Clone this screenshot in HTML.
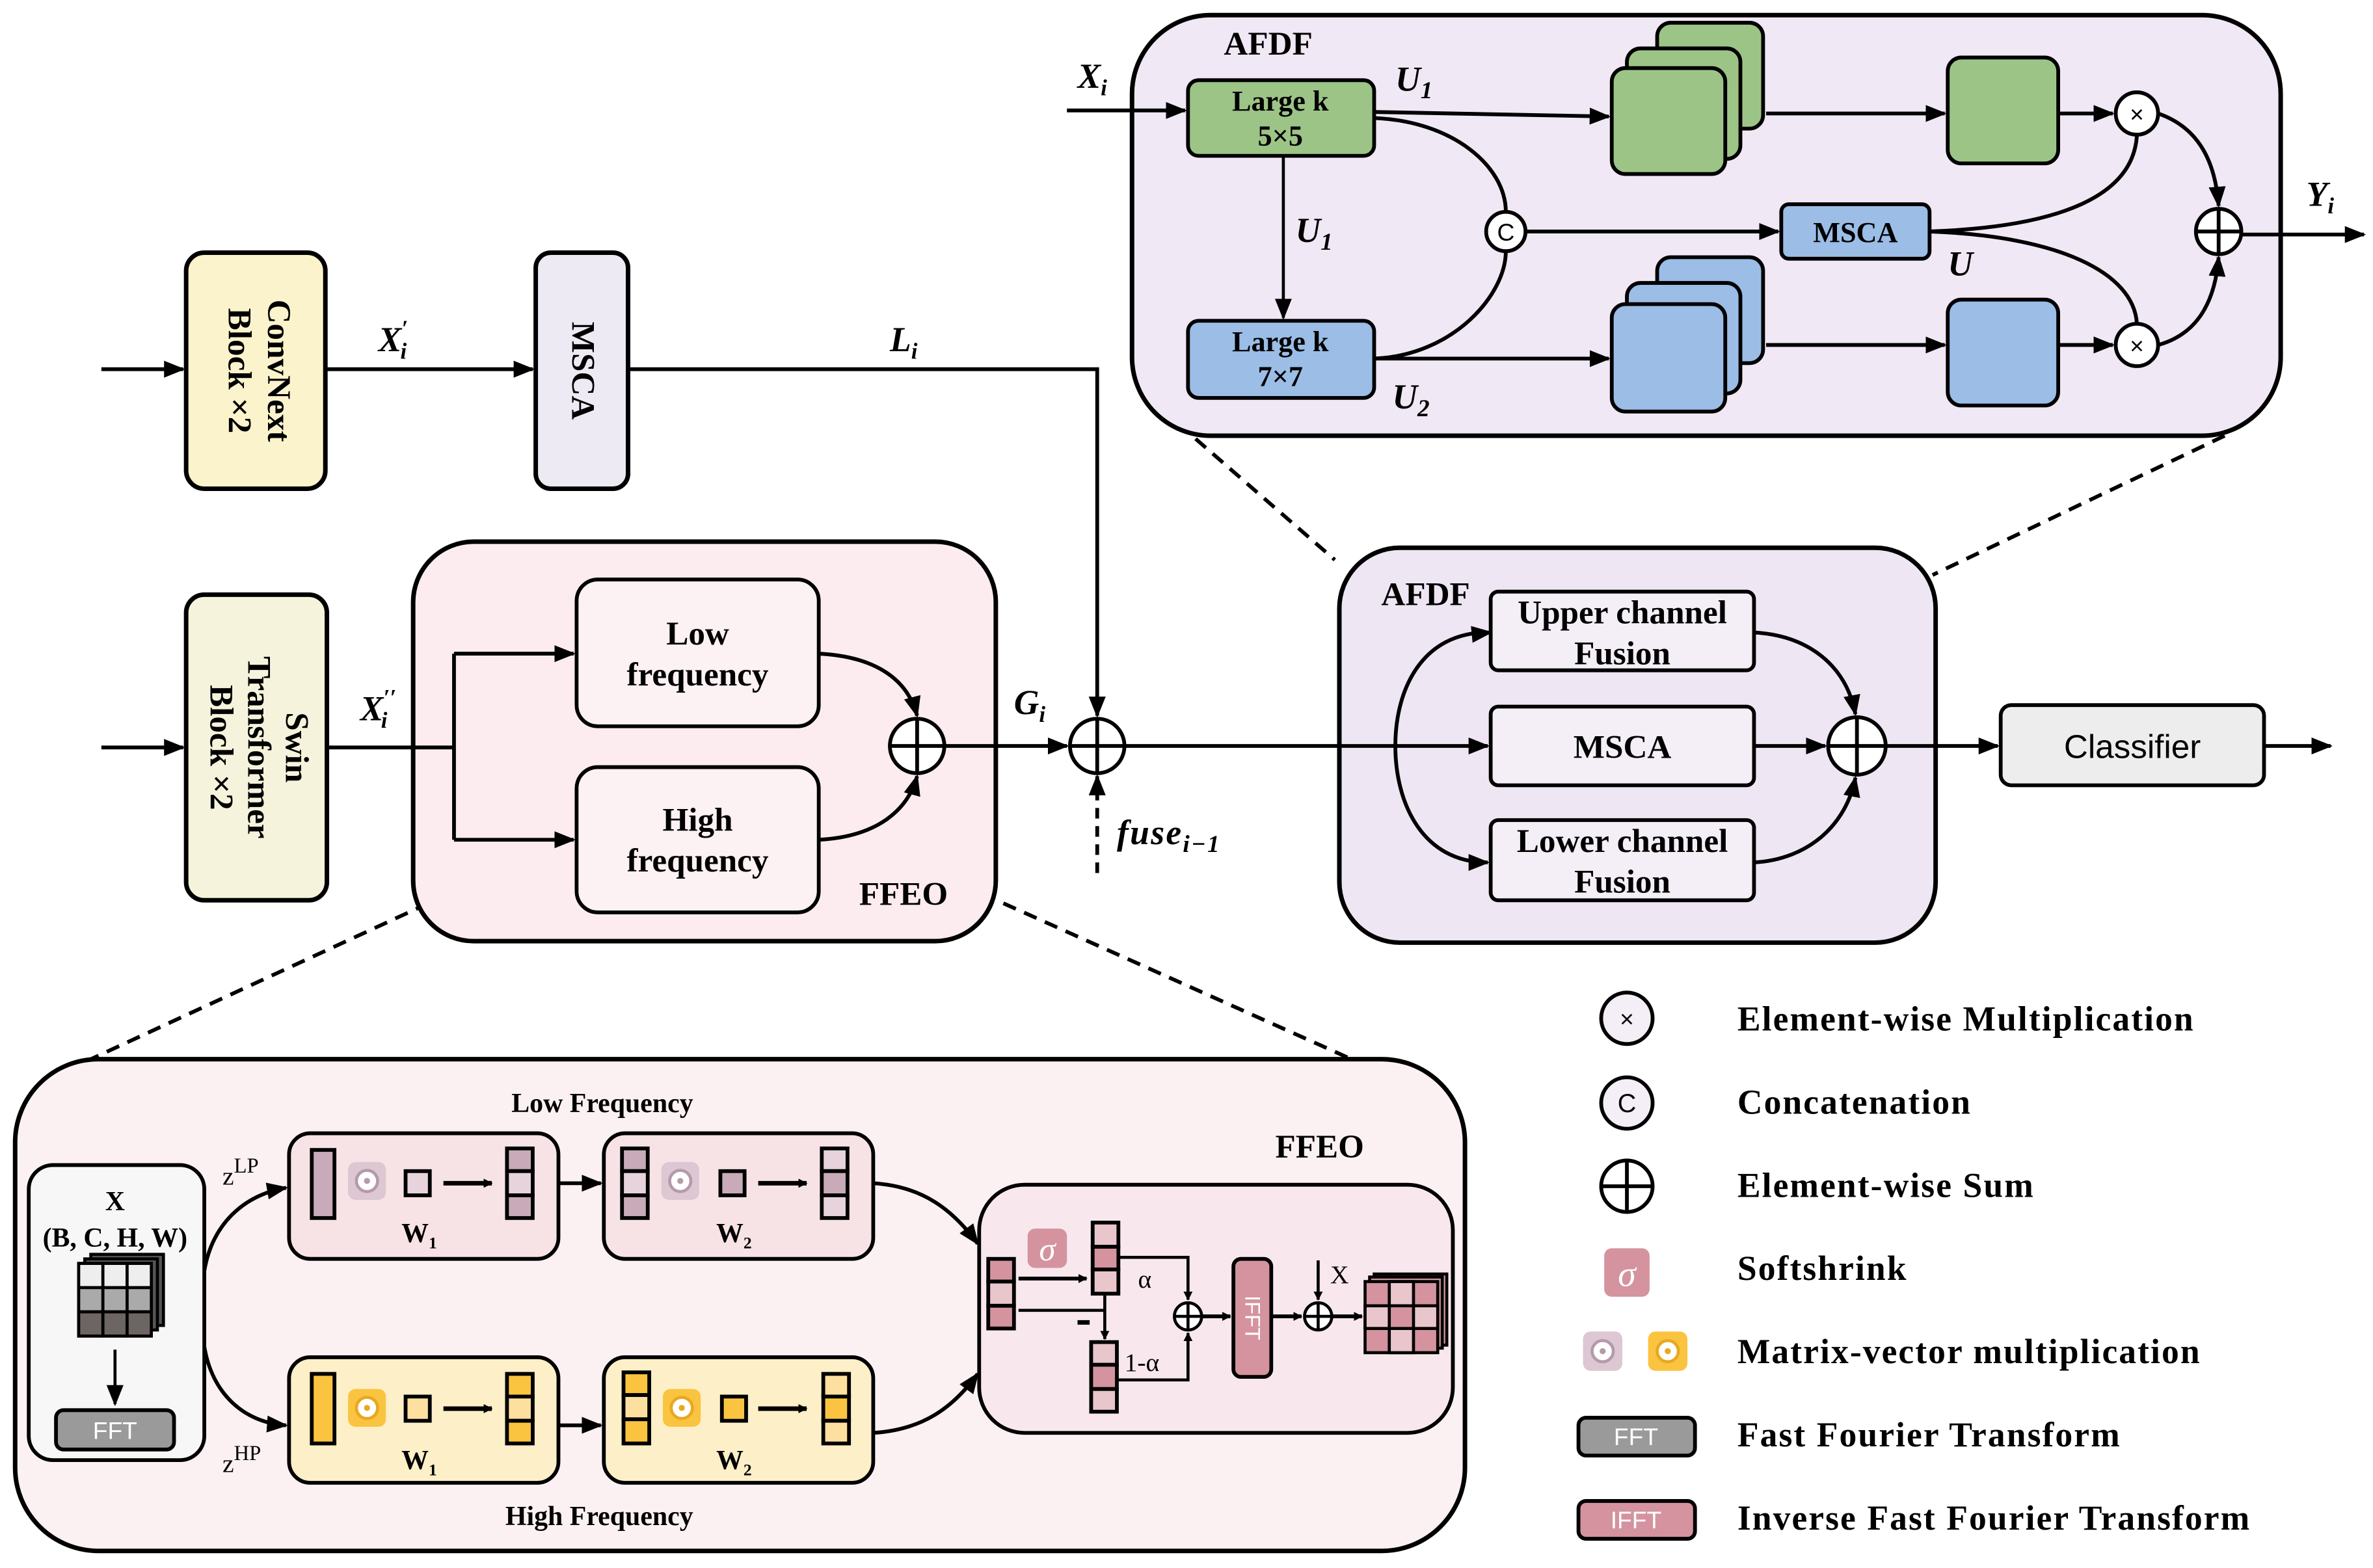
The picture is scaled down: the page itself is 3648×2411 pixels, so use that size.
<!DOCTYPE html>
<html><head><meta charset="utf-8"><style>html,body{margin:0;padding:0;background:#fff}svg{display:block}</style></head>
<body>
<svg width="3648" height="2411" viewBox="0 0 1568 1036.3" xmlns="http://www.w3.org/2000/svg" font-family="Liberation Serif, serif" font-weight="bold">
<defs>
<marker id="a" viewBox="0 0 10 10" refX="9" refY="5" markerWidth="6" markerHeight="6" orient="auto" markerUnits="userSpaceOnUse"><path d="M0,0L10,5L0,10z"/></marker>
<marker id="A" viewBox="0 0 10 10" refX="9" refY="5" markerWidth="14" markerHeight="14" orient="auto" markerUnits="userSpaceOnUse"><path d="M0,1L10,5L0,9z"/></marker>
</defs>
<g stroke="#000" stroke-width="2.5" fill="none">
<path d="M283,597L60,700M663,597L893,700M790,290L882,370M1470,288L1277,380" stroke-dasharray="9,6"/>
</g>
<rect x="748" y="10" width="759" height="278" rx="52" fill="#f0e8f4" stroke="#000" stroke-width="3"/>
<text x="838" y="36" font-size="22" text-anchor="middle">AFDF</text>
<g stroke="#000" stroke-width="2.5">
<rect x="785" y="53" width="123" height="50" rx="7" fill="#9dc487"/>
<rect x="785" y="212" width="123" height="51" rx="7" fill="#9bbde6"/>
<rect x="1095" y="15" width="70" height="70" rx="9" fill="#9dc487"/>
<rect x="1075" y="32" width="75" height="73" rx="9" fill="#9dc487"/>
<rect x="1065" y="45" width="75" height="70" rx="9" fill="#9dc487"/>
<rect x="1287" y="38" width="73" height="70" rx="9" fill="#9dc487"/>
<rect x="1095" y="170" width="70" height="70" rx="9" fill="#9bbde6"/>
<rect x="1075" y="187" width="75" height="73" rx="9" fill="#9bbde6"/>
<rect x="1065" y="201" width="75" height="71" rx="9" fill="#9bbde6"/>
<rect x="1287" y="198" width="73" height="70" rx="9" fill="#9bbde6"/>
<rect x="1177" y="135" width="98" height="36" rx="5" fill="#9bbde6"/>
</g>
<g font-size="19" text-anchor="middle">
<text x="846" y="73">Large k</text><text x="846" y="96">5×5</text>
<text x="846" y="232">Large k</text><text x="846" y="255">7×7</text>
<text x="1226" y="160">MSCA</text>
</g>
<g stroke="#000" stroke-width="2.5" fill="none">
<path d="M705,73H783" marker-end="url(#A)"/>
<path d="M908,74L1063,77" marker-end="url(#A)"/>
<path d="M1167,75H1285" marker-end="url(#A)"/>
<path d="M1360,75H1396" marker-end="url(#A)"/>
<path d="M848,103V210" stroke-width="2" marker-end="url(#A)"/>
<path d="M908,78C960,80 995,110 995,140"/>
<path d="M908,237C960,235 995,195 995,166"/>
<path d="M1008,153H1175" marker-end="url(#A)"/>
<path d="M908,237H1063" marker-end="url(#A)"/>
<path d="M1167,228H1285" marker-end="url(#A)"/>
<path d="M1360,228H1396" marker-end="url(#A)"/>
<path d="M1275,153C1360,150 1410,130 1412,89"/>
<path d="M1275,153C1360,156 1410,180 1412,214"/>
<path d="M1426,75C1455,85 1464,110 1466,136" marker-end="url(#A)"/>
<path d="M1426,228C1455,220 1464,195 1466,170" marker-end="url(#A)"/>
<path d="M1481,155H1562" marker-end="url(#A)"/>
</g>
<g stroke="#000" stroke-width="2.5" fill="#fff">
<circle cx="995" cy="153" r="13"/><circle cx="1412" cy="75" r="14"/><circle cx="1412" cy="228" r="14"/><circle cx="1466" cy="153" r="15"/>
</g>
<path d="M1451,153H1481M1466,138V168" stroke="#000" stroke-width="2.5"/>
<g font-family="Liberation Sans, sans-serif" font-weight="normal" text-anchor="middle">
<text x="995" y="159" font-size="16">C</text><text x="1412" y="81" font-size="16">×</text><text x="1412" y="234" font-size="16">×</text>
</g>
<g font-style="italic" font-size="23">
<text x="712" y="58">X<tspan font-size="15" dy="5">i</tspan></text>
<text x="922" y="60">U<tspan font-size="16" dy="5">1</tspan></text>
<text x="856" y="160">U<tspan font-size="16" dy="5">1</tspan></text>
<text x="920" y="270">U<tspan font-size="16" dy="5">2</tspan></text>
<text x="1287" y="182">U</text>
<text x="1524" y="136">Y<tspan font-size="15" dy="5">i</tspan></text>
</g>

<rect x="123" y="167" width="92" height="156" rx="12" fill="#fbf3cc" stroke="#000" stroke-width="3"/>
<rect x="354" y="167" width="61" height="156" rx="10" fill="#eeeaf4" stroke="#000" stroke-width="3"/>
<rect x="123" y="393" width="93" height="202" rx="12" fill="#f5f3dc" stroke="#000" stroke-width="3"/>
<g font-size="22" text-anchor="middle">
<text transform="translate(169,245) rotate(90)"><tspan x="0" y="-8">ConvNext</tspan><tspan x="0" y="18">Block  ×2</tspan></text>
<text transform="translate(385,245) rotate(90)" y="7">MSCA</text>
<text transform="translate(169,494) rotate(90)"><tspan x="0" y="-20">Swin</tspan><tspan x="0" y="5">Transformer</tspan><tspan x="0" y="30">Block  ×2</tspan></text>
</g>
<rect x="273" y="358" width="385" height="264" rx="40" fill="#fcecef" stroke="#000" stroke-width="3"/>
<rect x="381" y="383" width="160" height="97" rx="14" fill="#fcf1f3" stroke="#000" stroke-width="2.5"/>
<rect x="381" y="507" width="160" height="96" rx="14" fill="#fcf1f3" stroke="#000" stroke-width="2.5"/>
<g font-size="22" text-anchor="middle">
<text x="461" y="426">Low</text><text x="461" y="453">frequency</text>
<text x="461" y="549">High</text><text x="461" y="576">frequency</text>
<text x="597" y="598">FFEO</text>
</g>
<rect x="885" y="362" width="394" height="261" rx="40" fill="#eee6f2" stroke="#000" stroke-width="3"/>
<text x="942" y="400" font-size="22" text-anchor="middle">AFDF</text>
<g stroke="#000" stroke-width="2.5" fill="#f4eef6">
<rect x="985" y="391" width="174" height="52" rx="5"/>
<rect x="985" y="467" width="174" height="52" rx="5"/>
<rect x="985" y="542" width="174" height="53" rx="5"/>
<rect x="1322" y="466" width="174" height="53" rx="7" fill="#ededed"/>
</g>
<g font-size="22" text-anchor="middle">
<text x="1072" y="412">Upper channel</text><text x="1072" y="439">Fusion</text>
<text x="1072" y="501">MSCA</text>
<text x="1072" y="563">Lower channel</text><text x="1072" y="590">Fusion</text>
<text x="1409" y="501" font-family="Liberation Sans, sans-serif" font-weight="normal" font-size="22">Classifier</text>
</g>
<g stroke="#000" stroke-width="2.5" fill="none">
<path d="M67,244H121" marker-end="url(#A)"/>
<path d="M215,244H352" marker-end="url(#A)"/>
<path d="M415,244H725V473" marker-end="url(#A)"/>
<path d="M67,494H121" marker-end="url(#A)"/>
<path d="M216,494H300"/>
<path d="M300,432V555"/>
<path d="M300,432H379" marker-end="url(#A)"/>
<path d="M300,555H379" marker-end="url(#A)"/>
<path d="M541,432C580,434 600,450 606,473" marker-end="url(#A)"/>
<path d="M541,555C580,553 600,535 606,513" marker-end="url(#A)"/>
<path d="M624,493H705" marker-end="url(#A)"/>
<path d="M725,577V513" stroke-dasharray="7,5" marker-end="url(#A)"/>
<path d="M743,493H983" marker-end="url(#A)"/>
<path d="M983,418C940,418 922,455 922,493C922,531 940,570 983,570" marker-end="url(#A)"/>
<path d="M975,419L985,418" marker-end="url(#A)"/>
<path d="M1159,418C1195,420 1220,440 1226,472" marker-end="url(#A)"/>
<path d="M1159,493H1206" marker-end="url(#A)"/>
<path d="M1159,570C1195,568 1220,545 1226,514" marker-end="url(#A)"/>
<path d="M1246,493H1320" marker-end="url(#A)"/>
<path d="M1496,493H1540" marker-end="url(#A)"/>
</g>
<g stroke="#000" stroke-width="2.5" fill="#fff">
<circle cx="606" cy="493" r="18"/><circle cx="725" cy="493" r="18"/><circle cx="1227" cy="493" r="19"/>
</g>
<path d="M588,493H624M606,475V511M707,493H743M725,475V511M1208,493H1246M1227,474V512" stroke="#000" stroke-width="2.5"/>
<g font-style="italic" font-size="23">
<text x="250" y="232">X<tspan font-size="15" dy="-10">′</tspan><tspan font-size="15" dx="-5" dy="15">i</tspan></text>
<text x="588" y="232">L<tspan font-size="15" dy="5">i</tspan></text>
<text x="238" y="476">X<tspan font-size="15" dy="-10">′′</tspan><tspan font-size="15" dx="-10" dy="15">i</tspan></text>
<text x="670" y="472">G<tspan font-size="15" dy="5">i</tspan></text>
<text x="738" y="558" letter-spacing="1">fuse<tspan font-size="16" dy="5">i−1</tspan></text>
</g>

<g stroke="#000" stroke-width="2.5" fill="#fff">
<circle cx="1075" cy="673" r="17" fill="#f4eef6"/><circle cx="1075" cy="729" r="17" fill="#f4eef6"/><circle cx="1075" cy="784" r="17"/>
</g>
<path d="M1058,784H1092M1075,767V801" stroke="#000" stroke-width="2.5"/>
<g font-family="Liberation Sans, sans-serif" font-weight="normal" text-anchor="middle">
<text x="1075" y="679" font-size="16">×</text><text x="1075" y="735" font-size="17">C</text>
</g>
<rect x="1060" y="825" width="30" height="32" rx="5" fill="#d4939f"/>
<text x="1075" y="850" font-size="24" fill="#fff" font-weight="normal" font-style="italic" text-anchor="middle">σ</text>
<rect x="1046" y="880" width="26" height="26" rx="5" fill="#dcc7d2"/><circle cx="1059" cy="893" r="7" fill="#fff" stroke="#b59aaa" stroke-width="2"/><circle cx="1059" cy="893" r="2" fill="#b59aaa"/>
<rect x="1089" y="880" width="26" height="26" rx="5" fill="#fac440"/><circle cx="1102" cy="893" r="7" fill="#fff" stroke="#e8a820" stroke-width="2"/><circle cx="1102" cy="893" r="2" fill="#e8a820"/>
<rect x="1043" y="937" width="77" height="25" rx="5" fill="#9a9a9a" stroke="#000" stroke-width="2.5"/>
<rect x="1043" y="992" width="77" height="25" rx="5" fill="#d4939f" stroke="#000" stroke-width="2.5"/>
<g font-family="Liberation Sans, sans-serif" font-weight="normal" fill="#fff" font-size="16" text-anchor="middle">
<text x="1081" y="955">FFT</text><text x="1081" y="1010">IFFT</text>
</g>
<g font-size="23" letter-spacing="0.9">
<text x="1148" y="681">Element-wise Multiplication</text>
<text x="1148" y="736">Concatenation</text>
<text x="1148" y="791">Element-wise Sum</text>
<text x="1148" y="846">Softshrink</text>
<text x="1148" y="901">Matrix-vector multiplication</text>
<text x="1148" y="956">Fast Fourier Transform</text>
<text x="1148" y="1011">Inverse Fast Fourier Transform</text>
</g>

<rect x="10" y="700" width="958" height="325" rx="55" fill="#fcf1f2" stroke="#000" stroke-width="3"/>
<text x="872" y="765" font-size="22" text-anchor="middle">FFEO</text>
<text x="398" y="735" font-size="18" text-anchor="middle">Low Frequency</text>
<text x="396" y="1008" font-size="18" text-anchor="middle">High Frequency</text>
<rect x="19" y="770" width="116" height="195" rx="16" fill="#f7f7f7" stroke="#000" stroke-width="2.5"/>
<text x="76" y="800" font-size="18" text-anchor="middle">X</text>
<text x="76" y="824" font-size="18" text-anchor="middle">(B, C, H, W)</text>
<g stroke="#000" stroke-width="2">
<rect x="60" y="829" width="48" height="47" fill="#555"/>
<rect x="56" y="832" width="48" height="47" fill="#555"/>
<rect x="52" y="835" width="48" height="48" fill="#fff"/>
<rect x="52" y="835" width="16" height="16" fill="#eee"/><rect x="68" y="835" width="16" height="16" fill="#eee"/><rect x="84" y="835" width="16" height="16" fill="#eee"/>
<rect x="52" y="851" width="16" height="16" fill="#aaa"/><rect x="68" y="851" width="16" height="16" fill="#aaa"/><rect x="84" y="851" width="16" height="16" fill="#aaa"/>
<rect x="52" y="867" width="16" height="16" fill="#6d6464"/><rect x="68" y="867" width="16" height="16" fill="#6d6464"/><rect x="84" y="867" width="16" height="16" fill="#6d6464"/>
</g>
<path d="M76,892V928" stroke="#000" stroke-width="2" marker-end="url(#A)"/>
<rect x="37" y="932" width="78" height="26" rx="5" fill="#9a9a9a" stroke="#000" stroke-width="2.5"/>
<text x="76" y="951" font-family="Liberation Sans, sans-serif" font-weight="normal" fill="#fff" font-size="16" text-anchor="middle">FFT</text>
<g font-family="Liberation Serif, serif" font-weight="normal" font-size="17">
<text x="147" y="783">z<tspan font-size="14" dy="-8">LP</tspan></text>
<text x="147" y="973">z<tspan font-size="14" dy="-8">HP</tspan></text>
</g>
<g stroke="#000" stroke-width="2.5" fill="none">
<path d="M135,840C140,810 160,790 189,785" marker-end="url(#A)"/>
<path d="M135,890C140,920 160,940 189,942" marker-end="url(#A)"/>
<path d="M369,782H397" marker-end="url(#A)"/>
<path d="M369,942H397" marker-end="url(#A)"/>
<path d="M577,782C610,784 630,800 646,822" marker-end="url(#A)"/>
<path d="M577,947C610,945 630,930 646,908" marker-end="url(#A)"/>
</g>
<g stroke="#000" stroke-width="2.5">
<rect x="191" y="749" width="178" height="83" rx="14" fill="#f7e3e6"/>
<rect x="399" y="749" width="178" height="83" rx="14" fill="#f7e3e6"/>
<rect x="191" y="897" width="178" height="83" rx="14" fill="#fdefc8"/>
<rect x="399" y="897" width="178" height="83" rx="14" fill="#fdefc8"/>
</g>
<g stroke="#000" stroke-width="2.5">
<rect x="206" y="760" width="15" height="45" fill="#c9aab8"/>
<rect x="268" y="774" width="16" height="16" fill="#e6d3dc"/>
<rect x="335" y="759" width="17" height="15" fill="#c9aab8"/><rect x="335" y="774" width="17" height="16" fill="#e6d3dc"/><rect x="335" y="790" width="17" height="15" fill="#c9aab8"/>
<rect x="411" y="759" width="17" height="15" fill="#c9aab8"/><rect x="411" y="774" width="17" height="16" fill="#e6d3dc"/><rect x="411" y="790" width="17" height="15" fill="#c9aab8"/>
<rect x="476" y="774" width="16" height="16" fill="#c9aab8"/>
<rect x="543" y="759" width="17" height="15" fill="#e6d3dc"/><rect x="543" y="774" width="17" height="16" fill="#c9aab8"/><rect x="543" y="790" width="17" height="15" fill="#e6d3dc"/>
<rect x="206" y="908" width="15" height="46" fill="#fac440"/>
<rect x="268" y="923" width="16" height="16" fill="#fde0a0"/>
<rect x="335" y="908" width="17" height="15" fill="#fac440"/><rect x="335" y="923" width="17" height="16" fill="#fde0a0"/><rect x="335" y="939" width="17" height="15" fill="#fac440"/>
<rect x="412" y="907" width="17" height="15" fill="#fac440"/><rect x="412" y="922" width="17" height="16" fill="#fde0a0"/><rect x="412" y="938" width="17" height="16" fill="#fac440"/>
<rect x="477" y="923" width="16" height="16" fill="#fac440"/>
<rect x="544" y="908" width="17" height="15" fill="#fde0a0"/><rect x="544" y="923" width="17" height="16" fill="#fac440"/><rect x="544" y="939" width="17" height="15" fill="#fde0a0"/>
</g>
<g stroke="#000" stroke-width="3" fill="none">
<path d="M293,782H325" marker-end="url(#a)"/><path d="M501,782H533" marker-end="url(#a)"/>
<path d="M293,931H325" marker-end="url(#a)"/><path d="M501,931H533" marker-end="url(#a)"/>
</g>
<rect x="230" y="768" width="25" height="25" rx="5" fill="#dcc7d2"/><circle cx="242.5" cy="780.5" r="7" fill="#fff" stroke="#b59aaa" stroke-width="2"/><circle cx="242.5" cy="780.5" r="2" fill="#b59aaa"/>
<rect x="437" y="768" width="25" height="25" rx="5" fill="#dcc7d2"/><circle cx="449.5" cy="780.5" r="7" fill="#fff" stroke="#b59aaa" stroke-width="2"/><circle cx="449.5" cy="780.5" r="2" fill="#b59aaa"/>
<rect x="230" y="918" width="25" height="25" rx="5" fill="#fac440"/><circle cx="242.5" cy="930.5" r="7" fill="#fff" stroke="#e8a820" stroke-width="2"/><circle cx="242.5" cy="930.5" r="2" fill="#e8a820"/>
<rect x="438" y="918" width="25" height="25" rx="5" fill="#fac440"/><circle cx="450.5" cy="930.5" r="7" fill="#fff" stroke="#e8a820" stroke-width="2"/><circle cx="450.5" cy="930.5" r="2" fill="#e8a820"/>
<g font-size="18" text-anchor="middle">
<text x="277" y="821">W<tspan font-size="11" dy="4">1</tspan></text>
<text x="485" y="821">W<tspan font-size="11" dy="4">2</tspan></text>
<text x="277" y="971">W<tspan font-size="11" dy="4">1</tspan></text>
<text x="485" y="971">W<tspan font-size="11" dy="4">2</tspan></text>
</g>
<rect x="647" y="783" width="313" height="164" rx="30" fill="#f8e8ed" stroke="#000" stroke-width="2.5"/>
<g stroke="#000" stroke-width="2.5">
<rect x="653" y="832" width="17" height="15" fill="#d4939f"/><rect x="653" y="847" width="17" height="16" fill="#e8c6cc"/><rect x="653" y="863" width="17" height="15" fill="#d4939f"/>
<rect x="722" y="808" width="17" height="16" fill="#e8c6cc"/><rect x="722" y="824" width="17" height="15" fill="#d4939f"/><rect x="722" y="839" width="17" height="16" fill="#e8c6cc"/>
<rect x="721" y="887" width="17" height="15" fill="#e8c6cc"/><rect x="721" y="902" width="17" height="16" fill="#d4939f"/><rect x="721" y="918" width="17" height="15" fill="#e8c6cc"/>
<rect x="815" y="832" width="25" height="78" rx="5" fill="#d4939f"/>
</g>
<rect x="679" y="812" width="26" height="26" rx="5" fill="#d4939f"/>
<text x="692" y="833" font-size="22" fill="#fff" font-weight="normal" font-style="italic" text-anchor="middle">σ</text>
<text transform="translate(828,871) rotate(90)" y="5" font-family="Liberation Sans, sans-serif" font-weight="normal" fill="#fff" font-size="14" text-anchor="middle">IFFT</text>
<g stroke="#000" stroke-width="2" fill="none">
<path d="M673,845H718" stroke-width="2.5" marker-end="url(#a)"/>
<path d="M673,866H730"/>
<path d="M730,855V885" marker-end="url(#a)"/>
<path d="M739,831H785V859" marker-end="url(#a)"/>
<path d="M738,912H785V881" marker-end="url(#a)"/>
<path d="M794,870H813" stroke-width="2.5" marker-end="url(#a)"/>
<path d="M840,870H860" stroke-width="2.5" marker-end="url(#a)"/>
<path d="M871,833V859" marker-end="url(#a)"/>
<path d="M880,870H900" stroke-width="2.5" marker-end="url(#a)"/>
<circle cx="785" cy="870" r="9" fill="#fff"/><circle cx="871" cy="870" r="9" fill="#fff"/>
<path d="M776,870H794M785,861V879M862,870H880M871,861V879"/>
</g>
<path d="M712,874h8" stroke="#000" stroke-width="3"/>
<g font-family="Liberation Serif, serif" font-weight="normal" font-size="17">
<text x="752" y="851">α</text><text x="743" y="906">1-α</text><text x="879" y="848">X</text>
</g>
<g stroke="#000" stroke-width="2">
<rect x="908" y="842" width="48" height="47" fill="#d4939f"/>
<rect x="905" y="844" width="48" height="47" fill="#d4939f"/>
<rect x="902" y="847" width="48" height="47" fill="#d4939f"/>
<rect x="918" y="847" width="16" height="16" fill="#e8c6cc"/>
<rect x="902" y="863" width="16" height="15" fill="#e8c6cc"/><rect x="934" y="863" width="16" height="15" fill="#e8c6cc"/>
<rect x="918" y="878" width="16" height="16" fill="#e8c6cc"/>
</g>
</svg>
</body></html>
